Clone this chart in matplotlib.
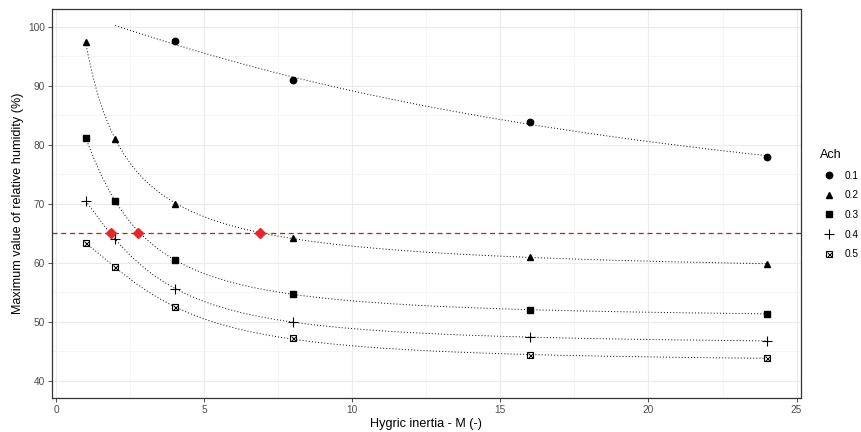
import numpy as np
import matplotlib
matplotlib.use("Agg")
import matplotlib.pyplot as plt
from matplotlib.ticker import MultipleLocator

plt.rcParams['font.family'] = ['Liberation Sans', 'DejaVu Sans']

# data
M = [1, 2, 4, 8, 16, 24]
ach_labels = ["0.1", "0.2", "0.3", "0.4", "0.5"]
rh_01 = [None, 100.0, 97.5, 91.0, 83.8, 78.0]   # M=2 value only on the curve
rh_02 = [97.4, 81.0, 70.0, 64.2, 61.0, 59.8]
rh_03 = [81.2, 70.5, 60.5, 54.8, 52.0, 51.3]
rh_04 = [70.5, 64.0, 55.6, 50.0, 47.4, 46.8]
rh_05 = [63.3, 59.3, 52.5, 47.2, 44.4, 43.8]
shown_01 = [False, False, True, True, True, True]
threshold = 65
cross_M = [1.86, 2.78, 6.87]

series = [rh_01, rh_02, rh_03, rh_04, rh_05]


def fit_curve(x, y):
    # log-logistic: y = lo + span / (1 + (x/x0)**n); lo/span by least squares
    best = None
    for x0 in np.logspace(-2, 2, 120):
        for n in np.linspace(0.2, 4, 80):
            g = 1 / (1 + (x / x0) ** n)
            A = np.column_stack([np.ones_like(x), g])
            coef = np.linalg.lstsq(A, y, rcond=None)[0]
            err = np.sum((A @ coef - y) ** 2)
            if best is None or err < best[0]:
                best = (err, coef, x0, n)
    _, (lo, span), x0, n = best
    return lambda t: lo + span / (1 + (t / x0) ** n)


fig = plt.figure(figsize=(8.62, 4.32), dpi=100)
ax = fig.add_axes([51.6 / 862, 34 / 432, 749.4 / 862, 389 / 432])

for ys in series:
    x = np.array([m for m, v in zip(M, ys) if v is not None], dtype=float)
    y = np.array([v for v in ys if v is not None], dtype=float)
    f = fit_curve(x, y)
    xs = np.linspace(x.min(), x.max(), 300)
    ax.plot(xs, f(xs), color='black', ls=(0, (1, 2.2)), lw=0.7, zorder=2)

kw = dict(color='black', ls='none', zorder=3)
x1 = [m for m, v, s in zip(M, rh_01, shown_01) if s]
y1 = [v for v, s in zip(rh_01, shown_01) if s]
ax.plot(x1, y1, marker='o', ms=4.6, label=ach_labels[0], **kw)
ax.plot(M, rh_02, marker='^', ms=4.8, label=ach_labels[1], **kw)
ax.plot(M, rh_03, marker='s', ms=4.2, label=ach_labels[2], **kw)
ax.plot(M, rh_04, marker='+', ms=7.5, mew=0.8, label=ach_labels[3], **kw)
ax.plot(M, rh_05, marker='s', ms=5, mfc='white', mec='black', mew=0.8, **kw)
ax.plot(M, rh_05, marker='x', ms=3.6, mew=0.7, **kw)

ax.axhline(threshold, color='#B22222', ls=(0, (4, 3)), lw=0.9, zorder=2)
ax.plot(cross_M, [threshold] * len(cross_M), ls='none', marker='D', ms=5.6,
        color='#E8262A', zorder=4)

ax.set_xlim(-0.15, 25.15)
ax.set_ylim(37.1, 103)
ax.xaxis.set_major_locator(MultipleLocator(5))
ax.xaxis.set_minor_locator(MultipleLocator(2.5))
ax.yaxis.set_major_locator(MultipleLocator(10))
ax.yaxis.set_minor_locator(MultipleLocator(5))
ax.grid(which='major', color='#EBEBEB', lw=0.8, zorder=0)
ax.grid(which='minor', color='#F2F2F2', lw=0.5, zorder=0)
ax.set_axisbelow(True)
ax.tick_params(which='major', length=3, width=0.6, color='#333333',
               labelsize=7.3, labelcolor='#4D4D4D', pad=2)
ax.tick_params(which='minor', length=0)
for s in ax.spines.values():
    s.set_color('#333333')
    s.set_linewidth(0.9)

ax.set_xlabel('Hygric inertia - M (-)', fontsize=9.1, labelpad=2)
ax.set_ylabel('Maximum value of relative humidity (%)', fontsize=9.1, labelpad=3)

# legend
h5 = (ax.plot([], [], marker='s', ms=5, mfc='white', mec='black', mew=0.8, ls='none')[0],
      ax.plot([], [], marker='x', ms=3.6, mew=0.7, color='black', ls='none')[0])
handles, labels = ax.get_legend_handles_labels()
handles.append(h5)
labels.append(ach_labels[4])
leg = fig.legend(handles, labels, title='Ach', loc='upper left',
                 bbox_to_anchor=(820 / 862, 1 - 149 / 432), frameon=False,
                 fontsize=7.3, title_fontsize=9.1, handlelength=1.7,
                 handletextpad=0.7, labelspacing=0.95, borderpad=0,
                 borderaxespad=0)
leg._legend_box.align = 'left'

fig.savefig('out.png', dpi=100)
